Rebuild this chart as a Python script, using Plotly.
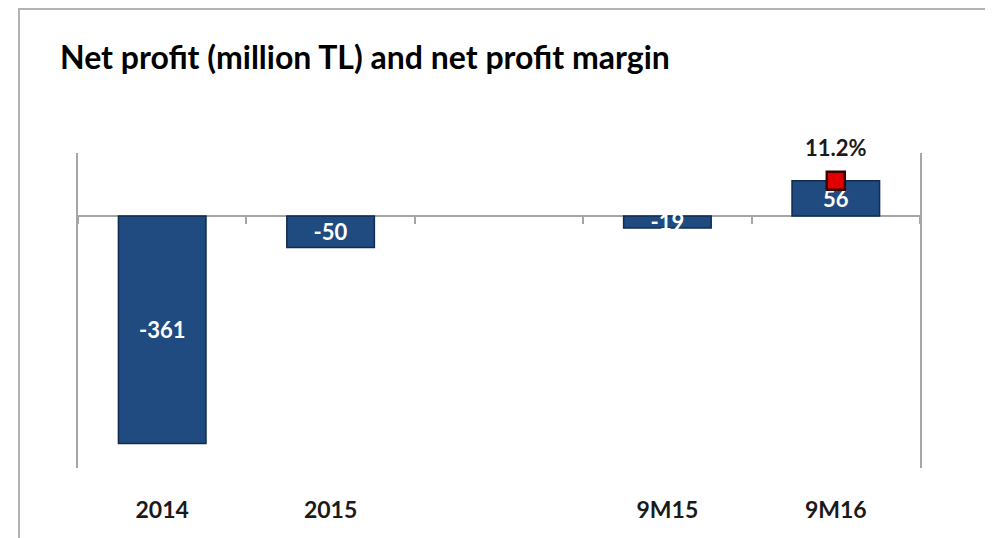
import plotly.graph_objects as go

# chart values
categories = ["2014", "2015", " ", "9M15", "9M16"]
net_profit = [-361, -50, None, -19, 56]
profit_margin = [None, None, None, None, 11.2]

title_text = "Net profit (million TL) and net profit margin"

FONT = "Lato, Roboto, Arial"
GRAY = "#a6a6a6"

bar_labels = [str(v) if v is not None else "" for v in net_profit]

fig = go.Figure()

fig.add_trace(
    go.Bar(
        x=categories,
        y=net_profit,
        text=bar_labels,
        textposition="inside",
        insidetextanchor="middle",
        constraintext="none",
        textfont=dict(family=FONT, size=22, color="white", weight="bold"),
        marker=dict(
            color="#1f4b80",
            line=dict(color="#112c4f", width=1.5)
        ),
        cliponaxis=False,
        hoverinfo="skip"
    )
)

fig.add_trace(
    go.Scatter(
        x=categories,
        y=profit_margin,
        xaxis="x2",
        yaxis="y2",
        mode="markers",
        marker=dict(
            symbol="square",
            size=18,
            color="#e00000",
            line=dict(color="#3a0000", width=2.5)
        ),
        cliponaxis=False,
        hoverinfo="skip"
    )
)

# margin labels above the markers
margin_notes = []
for cat, val in zip(categories, profit_margin):
    if val is None:
        continue
    margin_notes.append(
        dict(
            x=cat,
            y=val,
            xref="x2",
            yref="y2",
            text=f"{val:.1f}%",
            showarrow=False,
            yshift=33,
            font=dict(family=FONT, size=22, color="#1a1a1a", weight="bold")
        )
    )

# page body adds 8px around the figure
left, top = 70, 145
plot_w, plot_h = 842, 315

fig.update_layout(
    width=993,
    height=538,
    margin=dict(l=left, r=993 - left - plot_w, t=top, b=538 - top - plot_h),
    paper_bgcolor="white",
    plot_bgcolor="white",
    showlegend=False,
    bargap=0.48,
    title=dict(
        text=title_text,
        font=dict(family=FONT, size=32, color="#000000", weight="bold"),
        xref="container",
        yref="container",
        x=52 / 993,
        xanchor="left",
        y=1 - 50 / 538,
        yanchor="middle"
    ),
    annotations=margin_notes,
    xaxis=dict(
        type="category",
        categoryorder="array",
        categoryarray=categories,
        range=[-0.5, 4.5],
        showline=False,
        showgrid=False,
        ticks="",
        tickfont=dict(family=FONT, size=23, color="#1a1a1a", weight="bold"),
        ticklabelstandoff=26
    ),
    xaxis2=dict(
        type="category",
        categoryorder="array",
        categoryarray=categories,
        range=[-0.5, 4.5],
        overlaying="x",
        anchor="free",
        position=0.8,
        showline=False,
        showgrid=False,
        ticks="outside",
        tickson="boundaries",
        ticklen=7,
        tickwidth=2,
        tickcolor=GRAY,
        showticklabels=False
    ),
    yaxis=dict(
        range=[-400, 100],
        showline=True,
        linecolor=GRAY,
        linewidth=2,
        showgrid=False,
        zeroline=True,
        zerolinecolor=GRAY,
        zerolinewidth=2,
        showticklabels=False,
        ticks=""
    ),
    yaxis2=dict(
        range=[-80, 20],
        overlaying="y",
        side="right",
        anchor="x",
        showline=True,
        linecolor=GRAY,
        linewidth=2,
        showgrid=False,
        zeroline=False,
        showticklabels=False,
        ticks=""
    ),
    shapes=[
        dict(
            type="rect",
            xref="paper",
            yref="paper",
            x0=(11 - left) / plot_w,
            x1=(982 - left) / plot_w,
            y0=-0.5,
            y1=(top + plot_h - 1) / plot_h,
            line=dict(color="#b3b3b3", width=2),
            layer="below"
        )
    ]
)

fig.write_html("out.html")
